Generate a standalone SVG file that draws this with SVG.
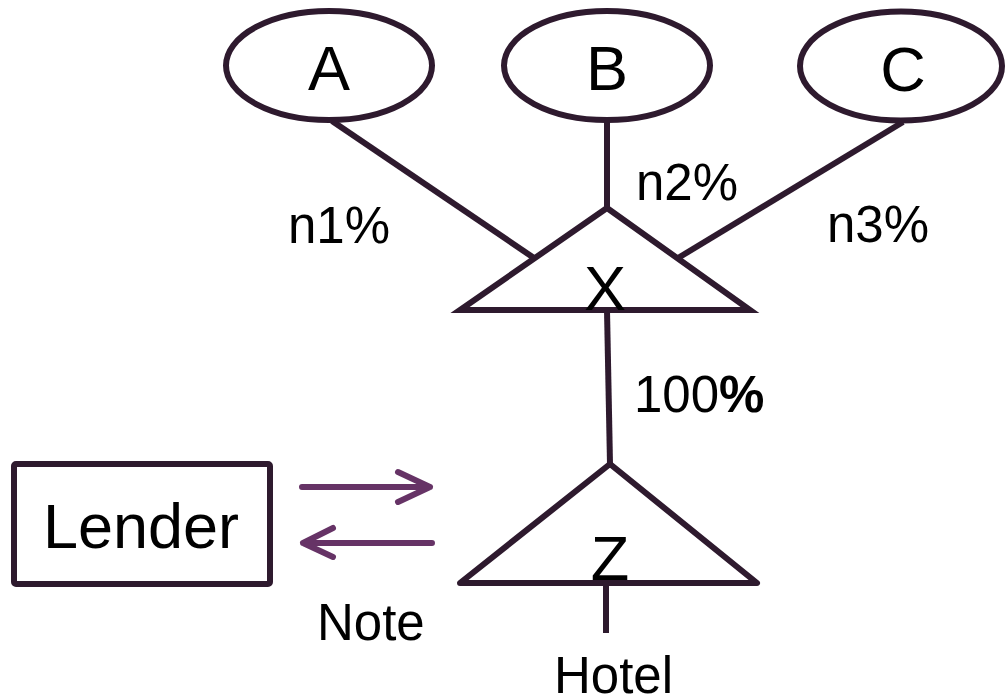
<svg xmlns="http://www.w3.org/2000/svg" width="1006" height="697" viewBox="0 0 1006 697">
<style>
.s{fill:none;stroke:#2e1a2e;stroke-width:6}
.big{font-family:"Liberation Sans",Arial,sans-serif;font-size:63px;fill:#000;text-anchor:middle}
.lbl{font-family:"Liberation Sans",Arial,sans-serif;font-size:51px;fill:#000}
.arr{fill:none;stroke:#663366;stroke-width:6;stroke-linecap:round;stroke-linejoin:round}
</style>
<rect width="1006" height="697" fill="#fff"/>
<g id="connectors">
<line class="s" x1="332" y1="121" x2="534" y2="258"/>
<line class="s" x1="607" y1="122" x2="607" y2="208"/>
<line class="s" x1="903" y1="122" x2="678" y2="258"/>
<line class="s" x1="607" y1="310" x2="610" y2="464"/>
<line class="s" x1="606" y1="585" x2="606" y2="633"/>
<path class="arr" d="M302 487H430M398 472L430 487L398 502"/>
<path class="arr" d="M432 543H303M333 528L303 543L333 557"/>
</g>
<g id="A"><ellipse class="s" cx="329" cy="65.5" rx="103" ry="54.5"/><text class="big" x="329" y="90">A</text></g>
<g id="B"><ellipse class="s" cx="607" cy="65.5" rx="103" ry="54.5"/><text class="big" x="607" y="90">B</text></g>
<g id="C"><ellipse class="s" cx="901" cy="66" rx="101" ry="54.5"/><text class="big" x="903" y="91">C</text></g>
<g id="X"><polygon class="s" points="607,208 750,310 460,310" stroke-linejoin="miter"/><text class="big" x="605" y="310">X</text></g>
<g id="Z"><polygon class="s" points="610,464 757,583 460,583" stroke-linejoin="round"/><text class="big" x="610" y="580">Z</text></g>
<g id="Lender"><rect class="s" x="14" y="464" width="256" height="120" rx="2"/><text class="big" x="141" y="548">Lender</text></g>
<g id="labels">
<text class="lbl" x="288" y="243">n1%</text>
<text class="lbl" x="636" y="200">n2%</text>
<text class="lbl" x="827" y="242">n3%</text>
<text class="lbl" x="634" y="412">100<tspan font-weight="bold">%</tspan></text>
<text class="lbl" x="317" y="640">Note</text>
<text class="lbl" x="554" y="693">Hotel</text>
</g>
</svg>
